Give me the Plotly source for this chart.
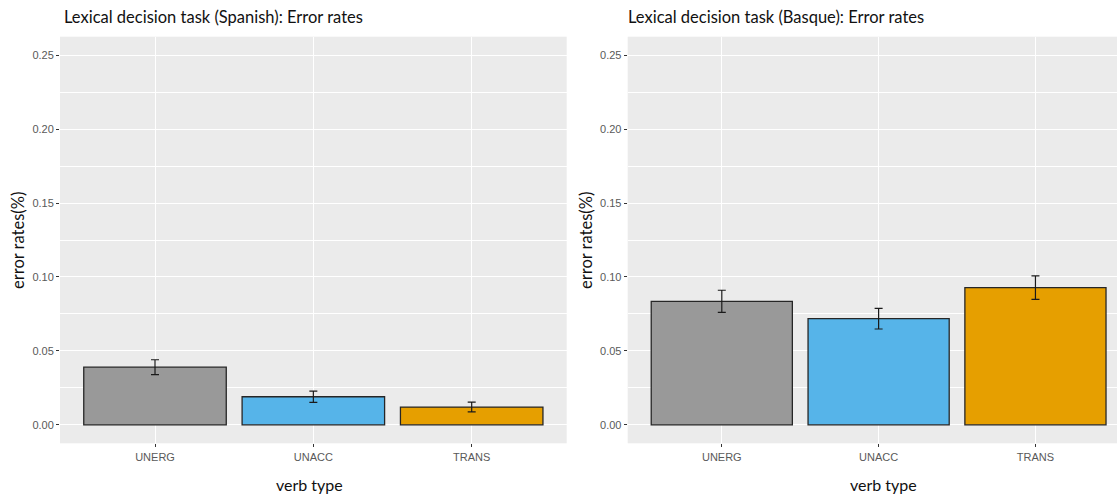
import plotly.graph_objects as go

# verb categories shared by both panels
verb_types = ["UNERG", "UNACC", "TRANS"]
bar_colors = ["#999999", "#56B4E9", "#E69F00"]

# Spanish lexical decision: mean error rates and standard errors
spanish_err = [0.039, 0.019, 0.012]
spanish_se = [0.005, 0.0038, 0.0033]

# Basque lexical decision: mean error rates and standard errors
basque_err = [0.0835, 0.0718, 0.0928]
basque_se = [0.0075, 0.007, 0.008]

y_ticks = [0.00, 0.05, 0.10, 0.15, 0.20, 0.25]

W, H = 1117, 495
panel_bottom = 1 - 443.3 / H
panel_top = 1 - 36.7 / H

fig = go.Figure()


def add_panel(vals, se, xa, ya):
    fig.add_trace(go.Bar(
        x=verb_types, y=vals, width=0.9,
        marker=dict(color=bar_colors, line=dict(color="#262626", width=1.3)),
        error_y=dict(type="data", array=se, visible=True,
                     color="#1a1a1a", thickness=1.2, width=4),
        xaxis=xa, yaxis=ya, showlegend=False,
    ))


add_panel(spanish_err, spanish_se, "x", "y")
add_panel(basque_err, basque_se, "x2", "y2")

tick_font = dict(family="Liberation Sans, Arial, sans-serif", size=11, color="#595959")

xaxis_common = dict(
    type="category", categoryorder="array", categoryarray=verb_types,
    showgrid=True, gridcolor="white", gridwidth=1.1,
    ticks="outside", ticklen=3, tickwidth=1, tickcolor="#333333",
    tickfont=tick_font, showline=False, zeroline=False, fixedrange=True,
)
yaxis_common = dict(
    range=[-0.0125, 0.2625], tickvals=y_ticks, tickformat=".2f",
    showgrid=True, gridcolor="white", gridwidth=1.1,
    minor=dict(dtick=0.025, tick0=0, showgrid=True, gridcolor="white", gridwidth=0.5),
    ticks="outside", ticklen=3, tickwidth=1, tickcolor="#333333",
    tickfont=tick_font, showline=False, zeroline=False, fixedrange=True,
)

fig.update_layout(
    width=W, height=H,
    margin=dict(l=0, r=0, t=0, b=0),
    paper_bgcolor="white", plot_bgcolor="#EBEBEB",
    bargap=0.1,
    xaxis=dict(domain=[60 / W, 566.7 / W], range=[-0.6, 2.6], anchor="y", **xaxis_common),
    yaxis=dict(domain=[panel_bottom, panel_top], anchor="x", **yaxis_common),
    xaxis2=dict(domain=[627.7 / W, 1.0], range=[-0.6, 2.52], anchor="y2", **xaxis_common),
    yaxis2=dict(domain=[panel_bottom, panel_top], anchor="x2", **yaxis_common),
)

label_font = dict(family="Lato, 'Open Sans', sans-serif", color="#111111")

# panel titles
for x0, txt in [(62, "Lexical decision task (Spanish): Error rates"),
                (626, "Lexical decision task (Basque): Error rates")]:
    fig.add_annotation(text=txt, x=x0 / W, y=1 - 17 / H, xref="paper", yref="paper",
                       xanchor="left", yanchor="middle", showarrow=False,
                       font=dict(size=16.5, **label_font))

# x-axis titles
for xc in [309, 883]:
    fig.add_annotation(text="verb type", x=xc / W, y=1 - 484 / H, xref="paper", yref="paper",
                       xanchor="center", yanchor="middle", showarrow=False,
                       font=dict(size=16, **label_font))

# y-axis titles
for xc in [18, 586]:
    fig.add_annotation(text="error rates(%)", x=xc / W, y=1 - 241 / H, xref="paper", yref="paper",
                       xanchor="center", yanchor="middle", textangle=-90, showarrow=False,
                       font=dict(size=16.5, **label_font))

fig.write_html("out.html")
